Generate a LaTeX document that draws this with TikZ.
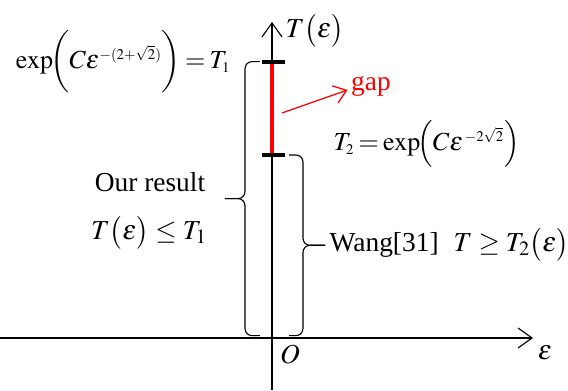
\documentclass[tikz,border=0pt]{standalone}
\usepackage{mathptmx}
\usepackage{fontspec}
\setmainfont{Liberation Serif}
\DeclareMathSizes{18.5}{18.5}{10.5}{8.5}
\usetikzlibrary{arrows.meta, positioning}
\definecolor{GapRed}{HTML}{FF0000}
\tikzset{
    % axes and level markers
    axisline/.style={
        line width=0.8pt,
        -{Straight Barb[length=3.5mm, width=5mm]}
    },
    tickmark/.style={
        line width=2.8pt
    },
    gapline/.style={
        draw=GapRed,
        line width=2.2pt
    },
    gaparrow/.style={
        draw=GapRed,
        line width=0.9pt,
        -{Straight Barb[length=3mm, width=4.5mm]}
    },
    % braces
    bracket/.style={
        line width=0.8pt,
        rounded corners=5pt
    },
    txt/.style={
        font=\fontsize{19.5}{23}\selectfont,
        inner sep=1pt
    },
    formula/.style={
        font=\fontsize{18.5}{22}\selectfont,
        inner sep=1pt
    }
}

\begin{document}
\begin{tikzpicture}
    \useasboundingbox (-6.8,-1.3) rectangle (7.4,8.45);

    % axes
    \coordinate (origin) at (0,0);
    \coordinate (xstart) at (-6.8,0);
    \coordinate (xend) at (6.525,0);
    \coordinate (ystart) at (0,-1.3);
    \coordinate (yend) at (0,7.9);
    \draw[axisline] (xstart) -- (xend);
    \draw[axisline] (ystart) -- (yend);
    \node[txt] (Tlab) at (1.075,7.68) {$T\bigl(\varepsilon\bigr)$};
    \node[txt] (epslab) at (6.825,-0.375) {$\varepsilon$};
    \node[txt] (Olab) at (0.45,-0.425) {$O$};

    % the two levels and the gap
    \coordinate (T1) at (0,6.91);
    \coordinate (T2) at (0,4.575);
    \draw[gapline] (T1) -- (T2);
    \draw[tickmark] ([xshift=-0.25cm]T1) -- ([xshift=0.325cm]T1);
    \draw[tickmark] ([xshift=-0.25cm]T2) -- ([xshift=0.325cm]T2);

    \node[txt, text=GapRed] (gap) at (2.475,6.3) {gap};
    \coordinate (gapfrom) at (0.25,5.625);
    \draw[gaparrow] (gapfrom) -- ([shift={(-0.05,-0.1)}]gap.west);

    \node[formula, anchor=east] (T1lab) at (-1.0,6.9) {$\thickmuskip=3mu\exp\!\biggl(C\varepsilon^{-(2+\sqrt{2})}\biggr)=T_1$};
    \node[formula, anchor=west] (T2lab) at (1.5,4.85) {$\thickmuskip=3mu T_2=\exp\!\Bigl(C\varepsilon^{\,-2\sqrt{2}}\Bigr)$};

    % our result
    \coordinate (ourlo) at (-0.3,0.06);
    \coordinate (ourhi) at (-0.3,6.91);
    \coordinate (ourmid) at (-0.675,3.485);
    \coordinate (ourtip) at (-1.175,3.485);
    \draw[bracket] (ourlo) -| (ourmid) -- (ourtip);
    \draw[bracket] (ourhi) -| (ourmid) -- (ourtip);
    \node[txt] (our) at (-3.05,3.9) {Our result};
    \node[txt] (ourT) at (-3.075,2.625) {$T\bigl(\varepsilon\bigr)\le T_1$};

    % Wang
    \coordinate (wanghi) at (0.425,4.575);
    \coordinate (wanglo) at (0.425,0.06);
    \coordinate (wangmid) at (0.775,2.3175);
    \coordinate (wangtip) at (1.325,2.3175);
    \draw[bracket] (wanghi) -| (wangmid) -- (wangtip);
    \draw[bracket] (wanglo) -| (wangmid) -- (wangtip);
    \node[txt, anchor=west] (wang) at (1.4,2.325) {Wang[31]\hspace{0.55em}$T\ge T_2\bigl(\varepsilon\bigr)$};
\end{tikzpicture}
\end{document}
